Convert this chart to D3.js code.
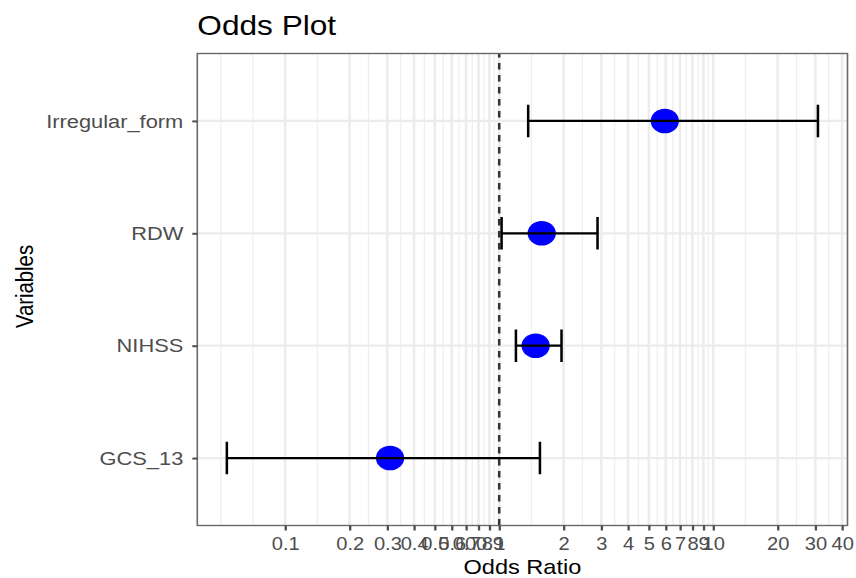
<!DOCTYPE html>
<html>
<head>
<meta charset="utf-8">
<script src="https://cdn.jsdelivr.net/npm/d3@7"></script>
<style>
  html, body { margin: 0; padding: 0; background: #fff; }
  svg { display: block; }
  text { font-family: "Liberation Sans", Arial, Helvetica, sans-serif; }
</style>
</head>
<body>
<div id="chart"></div>
<script>
// Odds ratios with 95% confidence intervals per predictor
const variables = ["Irregular_form", "RDW", "NIHSS", "GCS_13"];
const oddsRatio = [5.94, 1.58, 1.48, 0.309];
const ciLower   = [1.366, 1.026, 1.197, 0.0534];
const ciUpper   = [30.85, 2.88, 1.955, 1.55];

// Axis breaks and their labels
const xBreaks = [0.1, 0.2, 0.3, 0.4, 0.5, 0.6, 0.7, 0.8, 0.9, 1, 2, 3, 4, 5, 6, 7, 8, 9, 10, 20, 30, 40];
const xLabels = ["0.1", "0.2", "0.3", "0.4", "0.5", "0.6", "0.7", "0.8", "0.9", "1", "2", "3", "4", "5", "6", "7", "8", "9", "10", "20", "30", "40"];
const refLine = 1;

const W = 856, H = 578;
const S = 1.15;                 // horizontal stretch of the drawing
const VW = W / S;
const px = v => v / S;          // screen x -> drawing x

const pL = px(197.3), pR = px(847.5), pT = 53.5, pB = 525.5;

const rows = variables.map((v, i) => ({
  name: v, or: oddsRatio[i], lo: ciLower[i], hi: ciUpper[i]
}));

// log domain = data extent expanded by 5% on each side
const lmin = Math.log10(d3.min(ciLower)), lmax = Math.log10(d3.max(ciUpper));
const pad = (lmax - lmin) * 0.05;
const x = d3.scaleLog()
  .domain([Math.pow(10, lmin - pad), Math.pow(10, lmax + pad)])
  .range([pL, pR]);
const y = d3.scalePoint().domain(variables).range([pT, pB]).padding(0.6);

const svg = d3.select("#chart").append("svg")
  .attr("width", W).attr("height", H)
  .attr("viewBox", `0 0 ${VW} ${H}`)
  .attr("preserveAspectRatio", "none");

svg.append("rect").attr("width", VW).attr("height", H).attr("fill", "#fff");

// minor breaks: midpoints between majors in log space, extended toward the limits
const [dlo, dhi] = x.domain().map(Math.log10);
let b = xBreaks.map(Math.log10).filter(v => v >= dlo && v <= dhi);
const bd = b[1] - b[0];
if (dlo < b[0]) b = [b[0] - bd, ...b];
if (dhi > b[b.length - 1]) b = [...b, b[b.length - 1] + bd];
let minor = [];
for (let i = 0; i < b.length - 1; i++) minor.push(b[i], (b[i] + b[i + 1]) / 2);
minor.push(b[b.length - 1]);
const majorLog = xBreaks.map(Math.log10);
minor = minor.filter(v => v > dlo && v < dhi && !majorLog.some(m => Math.abs(m - v) < 1e-9));

const grid = svg.append("g").attr("class", "grid");
grid.selectAll("line.minor").data(minor).join("line")
  .attr("class", "minor")
  .attr("x1", v => x(Math.pow(10, v))).attr("x2", v => x(Math.pow(10, v)))
  .attr("y1", pT).attr("y2", pB)
  .attr("stroke", "#efefef").attr("stroke-width", 1.1);
grid.selectAll("line.majx").data(xBreaks.filter(v => v >= x.domain()[0] && v <= x.domain()[1])).join("line")
  .attr("class", "majx")
  .attr("x1", d => x(d)).attr("x2", d => x(d))
  .attr("y1", pT).attr("y2", pB)
  .attr("stroke", "#ececec").attr("stroke-width", 2.2);
grid.selectAll("line.majy").data(variables).join("line")
  .attr("class", "majy")
  .attr("x1", pL).attr("x2", pR)
  .attr("y1", d => y(d)).attr("y2", d => y(d))
  .attr("stroke", "#ececec").attr("stroke-width", 2.2);

// reference line at OR = 1
svg.append("line")
  .attr("x1", x(refLine)).attr("x2", x(refLine))
  .attr("y1", pB).attr("y2", pT)
  .attr("stroke", "#333").attr("stroke-width", 2.2)
  .attr("stroke-dasharray", "6.5,5.5");

// points
svg.append("g").selectAll("circle").data(rows).join("circle")
  .attr("cx", d => x(d.or)).attr("cy", d => y(d.name))
  .attr("r", 12.3).attr("fill", "#0000ff");

// horizontal error bars
const capH = y.step() * 0.145;
const eb = svg.append("g").attr("stroke", "#000").attr("stroke-width", 2.2).attr("fill", "none");
eb.selectAll("path").data(rows).join("path")
  .attr("d", d => {
    const yc = y(d.name), a = x(d.lo), c = x(d.hi);
    return `M${a},${yc - capH}V${yc + capH}M${a},${yc}H${c}M${c},${yc - capH}V${yc + capH}`;
  });

// panel border
svg.append("rect")
  .attr("x", pL).attr("y", pT).attr("width", pR - pL).attr("height", pB - pT)
  .attr("fill", "none").attr("stroke", "#6a6a6a").attr("stroke-width", 1.4);

// x axis
const xAxis = svg.append("g").attr("transform", `translate(0,${pB})`)
  .call(d3.axisBottom(x).tickValues(xBreaks).tickFormat((d, i) => xLabels[i]).tickSize(5).tickSizeOuter(0));
xAxis.select(".domain").remove();
xAxis.selectAll(".tick line").attr("stroke", "#4d4d4d").attr("stroke-width", 2);
xAxis.selectAll(".tick text")
  .attr("y", 550 - pB).attr("dy", 0)
  .attr("fill", "#4d4d4d").style("font-size", "17.5px");

// y axis
const yAxis = svg.append("g").attr("transform", `translate(${pL},0)`)
  .call(d3.axisLeft(y).tickSize(px(5)).tickPadding(px(9)).tickSizeOuter(0));
yAxis.select(".domain").remove();
yAxis.selectAll(".tick line").attr("stroke", "#4d4d4d").attr("stroke-width", 2);
yAxis.selectAll(".tick text")
  .attr("fill", "#4d4d4d").style("font-size", "19px");

// titles
svg.append("text")
  .attr("x", pL).attr("y", 35)
  .style("font-size", "27.5px").attr("fill", "#000")
  .text("Odds Plot");
svg.append("text")
  .attr("x", (pL + pR) / 2).attr("y", 574)
  .attr("text-anchor", "middle")
  .style("font-size", "20.5px").attr("fill", "#000")
  .text("Odds Ratio");
svg.append("text")
  .attr("transform", `translate(${px(33)},${(pT + pB) / 2 - 3}) rotate(-90)`)
  .attr("text-anchor", "middle")
  .style("font-size", "20.3px").attr("fill", "#000")
  .text("Variables");
</script>
</body>
</html>
